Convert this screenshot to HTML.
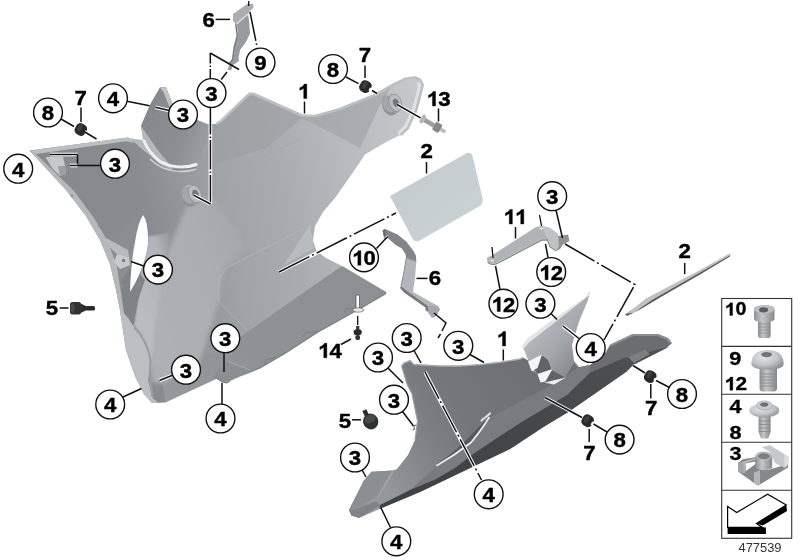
<!DOCTYPE html>
<html><head><meta charset="utf-8"><title>477539</title>
<style>
html,body{margin:0;padding:0;background:#fff;}
svg{display:block;will-change:transform}
.b{font-family:"Liberation Sans",sans-serif;font-weight:bold;font-size:21.3px;fill:#000;stroke:#000;stroke-width:0.4px}
.n{font-family:"Liberation Sans",sans-serif;font-size:12px;fill:#333}
.l{font-family:"Liberation Sans",sans-serif;font-weight:bold;font-size:18.5px;fill:#000;stroke:#000;stroke-width:0.3px}
</style></head><body>
<svg width="800" height="560" viewBox="0 0 800 560">
<rect width="800" height="560" fill="#fff"/>
<defs>
<filter id="b2" x="-10%" y="-10%" width="120%" height="120%"><feGaussianBlur stdDeviation="2"/></filter>
<filter id="b1" x="-10%" y="-10%" width="120%" height="120%"><feGaussianBlur stdDeviation="0.8"/></filter>
<clipPath id="cpU"><polygon points="29.5,150.4 124,138 128,137.5 131,139 146,152 141,126 150,105 160,87.5 166,87.5 172.5,104 197,120 207,124 216,124 221,121 247,96 250,93.6 254,94 302,115.5 315,116 340,109 376,94.5 395,84 406,78.5 415,77.5 420,79.5 422.8,85 416.3,110 408,128 400.5,135 390,140 380,145.5 365,154.5 356,168 335,198 323,212 315,226 313,240 316,250 325,257.5 342,266 386,292 385,294 362,307.5 318,332 284,354 260,368 250,372 240,376 224,382 218,378 165,402.5 152,403 144,394 135,376 126,350 120,310 116,290 110,264 100,240 86,216 66,190"/></clipPath>
<linearGradient id="gUp" gradientUnits="userSpaceOnUse" x1="30" y1="200" x2="425" y2="120">
<stop offset="0" stop-color="#85888c"/><stop offset="0.28" stop-color="#888b8f"/><stop offset="0.47" stop-color="#a0a3a7"/><stop offset="0.62" stop-color="#a8abaf"/><stop offset="0.8" stop-color="#b8bbbf"/><stop offset="1" stop-color="#c6c8cc"/></linearGradient>
<linearGradient id="gFlapU" gradientUnits="userSpaceOnUse" x1="145" y1="110" x2="215" y2="135">
<stop offset="0" stop-color="#85888c"/><stop offset="0.6" stop-color="#8b8e92"/><stop offset="1" stop-color="#9da0a4"/></linearGradient>
<linearGradient id="gFan" gradientUnits="userSpaceOnUse" x1="150" y1="300" x2="240" y2="270">
<stop offset="0" stop-color="#adb0b4"/><stop offset="0.7" stop-color="#aaadb1"/><stop offset="1" stop-color="#a6a9ad"/></linearGradient>
<linearGradient id="gFace" gradientUnits="userSpaceOnUse" x1="138" y1="300" x2="192" y2="285">
<stop offset="0" stop-color="#b9bcc0"/><stop offset="0.6" stop-color="#b0b3b7"/><stop offset="1" stop-color="#a6a9ad" stop-opacity="0"/></linearGradient>
<linearGradient id="gDark" x1="0" y1="1" x2="1" y2="0">
<stop offset="0" stop-color="#96999d"/><stop offset="0.4" stop-color="#8e9195"/><stop offset="1" stop-color="#8c8f93"/></linearGradient>
<linearGradient id="gPlate" x1="0" y1="0" x2="1" y2="1">
<stop offset="0" stop-color="#c3cace"/><stop offset="1" stop-color="#ccd3d7"/></linearGradient>
<linearGradient id="gLow" gradientUnits="userSpaceOnUse" x1="385" y1="490" x2="600" y2="350">
<stop offset="0" stop-color="#94979b"/><stop offset="0.22" stop-color="#7f8286"/><stop offset="0.4" stop-color="#74777b"/><stop offset="0.75" stop-color="#6c6f73"/><stop offset="1" stop-color="#6b6d71"/></linearGradient>
<linearGradient id="gBand" gradientUnits="userSpaceOnUse" x1="380" y1="505" x2="670" y2="345">
<stop offset="0" stop-color="#3e4042"/><stop offset="0.5" stop-color="#444649"/><stop offset="1" stop-color="#505256"/></linearGradient>
<linearGradient id="gFlap" gradientUnits="userSpaceOnUse" x1="535" y1="325" x2="580" y2="365">
<stop offset="0" stop-color="#b6b9bd"/><stop offset="0.5" stop-color="#a4a7ab"/><stop offset="1" stop-color="#85888c"/></linearGradient>
<linearGradient id="gScrew" x1="0" y1="0" x2="1" y2="0">
<stop offset="0" stop-color="#8e9093"/><stop offset="0.4" stop-color="#c4c6c8"/><stop offset="1" stop-color="#86888b"/></linearGradient>
<radialGradient id="gHead" cx="0.4" cy="0.35" r="0.7">
<stop offset="0" stop-color="#e6e7e9"/><stop offset="0.6" stop-color="#c2c4c7"/><stop offset="1" stop-color="#8e9093"/></radialGradient>
</defs>
<polygon points="29.5,150.4 124,138 128,137.5 131,139 146,152 141,126 150,105 160,87.5 166,87.5 172.5,104 197,120 207,124 216,124 221,121 247,96 250,93.6 254,94 302,115.5 315,116 340,109 376,94.5 395,84 406,78.5 415,77.5 420,79.5 422.8,85 416.3,110 408,128 400.5,135 390,140 380,145.5 365,154.5 356,168 335,198 323,212 315,226 313,240 316,250 325,257.5 342,266 386,292 385,294 362,307.5 318,332 284,354 260,368 250,372 240,376 224,382 218,378 165,402.5 152,403 144,394 135,376 126,350 120,310 116,290 110,264 100,240 86,216 66,190" fill="url(#gUp)" />
<polygon points="342,266 386,292 385,294 362,307.5 318,332 284,354 260,368 250,372 240,376 224,382 218,378 165,402.5 163,384 200,362 247.5,332 300,295" fill="url(#gDark)" />
<path d="M362,307.5 L346,308.5 L344,313 M318,332 L305,332.5 L303,337 M264,366 L266,360 L276,357" fill="none" stroke="#7b7e82" stroke-width="1" />
<path d="M386,292 L385,294 L362,307.5 L318,332 L284,354 L260,368 L250,372" fill="none" stroke="#7c7f83" stroke-width="1.2" />
<polygon points="284,265 310,224.5 314,248" fill="#b9bcbf" />
<polygon points="188,204 212,196 246,245 224,268 219,300 200,362 163,384 152,382 150,345 156,300 168,250" fill="url(#gFan)" filter="url(#b2)"/>
<path d="M148,236 Q158,236 170,232 Q166,262 160,300 Q152,340 152,380 L150,360 Q146,338 134,326 Q138,300 141,274 Q147,250 148,236 Z" fill="url(#gFace)" filter="url(#b1)"/>
<polygon points="216,124 221,121 247,96 250,93.6 254,94 302,115.5 315,116 340,109 370,97 395,82 380,105 360,148 330,132 302,118 266,148 200,168 197,150 205,135" fill="#9b9ea2" opacity="0.55"/>
<polygon points="120.5,280 126,262 131,268 130,288 140,274 145,280 138,300 134.5,320 133,326 125,320 123,300" fill="#7f8286" />
<polygon points="107,240 117,266 121,282 131,266 135,245 139,220 134,215 120,230" fill="#8a8d91" />
<polygon points="29.5,150.4 66,190 86,216 100,240 110,264 116,290 120,310 126,350 135,376 144,394 152,403 158,402.5 152,398 148,380 150,360 146,340 134,327 124,313 119,280 117,266 107,240 94,218 74,191 36,154" fill="#b6b9bc" />
<polygon points="120,310 126,350 135,376 144,394 152,403 158,402.5 152,398 148,380 150,360 146,340 134,327 128,318" fill="#bcbfc3" />
<path d="M134,327 Q147,340 150.5,360 Q149,380 153,398" fill="none" stroke="#9a9da1" stroke-width="2" />
<polygon points="29.5,150.4 124,138 128,137.5 131,139 134,143 126,141.2 36,154" fill="#bcbfc2" />
<path d="M419,84 L420,88 L414,110 L406,127 L400,133" fill="none" stroke="#dfe1e3" stroke-width="4.5" stroke-linejoin="round" stroke-linecap="round"/>
<path d="M216,124 L221,121 L247,96 L250,93.6 L254,94 L302,115.5 L315,116 L340,109 L376,94.5 L395,84 L406,78.5 L415,77.5 L420,79.5 L422.8,85 L416.3,110 L408,128 L400.5,135" fill="none" stroke="#bdc0c3" stroke-width="2.6" stroke-linejoin="round"/>
<polygon points="141,126 150,105 160,87.5 166,87.5 172.5,104 197,120 207,124 216,124 205,145 196,166 172,167 160,153 150,139" fill="url(#gFlapU)" />
<polygon points="160,87.5 166,87.5 172.5,104 197,120 193,121 169,106 163.5,92" fill="#c1c4c7" />
<path d="M146,123 l2,-4 M148.5,129 l2,-4 M152,114 l2,-4" fill="none" stroke="#7d8084" stroke-width="1" />
<polygon points="128,137.5 131,139 146,152 160,164 172,170 172,167 160,153 150,139 141,126 143,140 134,139" fill="#b4b7bb" />
<path d="M144,141 Q149,153 160,161.5 Q170,167 182,167 Q190,167 196,164.5" fill="none" stroke="#eff0f1" stroke-width="3" stroke-linecap="round"/>
<path d="M150,159 Q162,171 180,171.5 Q190,171.5 196,169" fill="none" stroke="#cfd2d4" stroke-width="1.6" />
<path d="M174,169.5 Q186,170 196,167.5" fill="none" stroke="#808387" stroke-width="1.2" />
<path d="M143,215 Q148.5,222 148,243 Q145,268 130,292 Q131,262 135,242 Q138,222 143,215 Z" fill="#fff" />
<polygon points="106,238 128,250 129,257 117,254 108,246" fill="#b9bcbf" />
<polygon points="117,254 129,257 130,265 120,269 114,262" fill="#c8cbce" />
<circle cx="123.6" cy="260.5" r="1.7" fill="#7a7d81"/>
<path d="M216,181 L246,245" fill="none" stroke="#a1a4a8" stroke-width="1" />
<path d="M219,302 Q216,280 226,268 L307,227" fill="none" stroke="#b0b3b7" stroke-width="1" />
<path d="M219,302 L237,320 L247,330" fill="none" stroke="#b0b3b7" stroke-width="0.8" />
<path d="M216,178 L240,168 L300,140" fill="none" stroke="#a3a6aa" stroke-width="0.8" />
<circle cx="44" cy="160" r="1.4" fill="#8f9296"/>
<circle cx="72" cy="196" r="1.4" fill="#8f9296"/>
<circle cx="99" cy="226" r="1.4" fill="#8f9296"/>
<circle cx="121" cy="286" r="1.4" fill="#8f9296"/>
<g transform="translate(194 194.3) scale(1.0) rotate(-22)"><ellipse cx="-5" cy="0" rx="8" ry="11" fill="#8d9094"/><ellipse cx="-5.5" cy="-1.5" rx="6.5" ry="9" fill="#a4a7ab"/><rect x="-5" y="-10.2" width="6" height="20.4" fill="#9a9da1"/><path d="M-5,-10.2 L1,-9.2" stroke="#bcbfc3" stroke-width="1.5"/><ellipse cx="1" cy="0" rx="6.2" ry="9.2" fill="#b9bcc0" stroke="#8a8d91" stroke-width="0.7"/><ellipse cx="1.5" cy="0.3" rx="3" ry="4.4" fill="#72757a"/></g>
<g transform="translate(394.5 103.2) scale(0.98) rotate(-22)"><ellipse cx="-5" cy="0" rx="8" ry="11" fill="#8d9094"/><ellipse cx="-5.5" cy="-1.5" rx="6.5" ry="9" fill="#a4a7ab"/><rect x="-5" y="-10.2" width="6" height="20.4" fill="#9a9da1"/><path d="M-5,-10.2 L1,-9.2" stroke="#bcbfc3" stroke-width="1.5"/><ellipse cx="1" cy="0" rx="6.2" ry="9.2" fill="#b9bcc0" stroke="#8a8d91" stroke-width="0.7"/><ellipse cx="1.5" cy="0.3" rx="3" ry="4.4" fill="#72757a"/></g>
<polygon points="45.5,157 63,156.5 65,166 66,174 60,176 52,168" fill="#c6c9cc" />
<polygon points="58,166 65,166 66,174 60,176" fill="#9b9ea2" />
<polygon points="214,376.5 219,371 228,361.5 250,370 250,373 240,376.5 230,381 227,383 222,382" fill="#8b8e92" />
<path d="M228,361.5 L250,370" fill="none" stroke="#a9acb0" stroke-width="0.9" />
<path d="M214,376.5 L222,382 L227,383 L230,381" fill="none" stroke="#7c7f83" stroke-width="1" />
<polygon points="390,196 468,152.5 472,154 483,200 481.5,205 418,241.5 413.5,240.5" fill="url(#gPlate)" />
<polygon points="233,14 247.5,3.8 253,3.8 253.7,7.5 250,11 248,14 236.5,24 233,21" fill="#abadb1" />
<polygon points="236.5,24 248,14 249,20 250,33.5 246,42 240,50 238.5,58 239,61 233,65 231,70.5 227.5,69.5 230,64 233.5,60 235,48 238,36 237,25" fill="#989b9f" />
<polygon points="236.5,24 238,36 235,48 233.5,60 230,64 229,63 232,59 233.5,47 236.5,36 235,23" fill="#717377" />
<path d="M236.5,24 L248,14" fill="none" stroke="#e4e5e6" stroke-width="1.2" />
<line x1="248.7" y1="1" x2="248.7" y2="6" stroke="#111" stroke-width="1.3" />
<polygon points="406.2,258.2 416.3,261.7 415,278 413,292 438,306 440,309.5 436,316 432,318 428,312 428,306 406,290 401,286 403.6,274" fill="#b2b5b9" />
<polygon points="382.6,230.2 385.2,229 397.5,234.6 406.2,241.6 413.2,250.4 415.9,255.6 416.3,261.7 406.2,258.2 405.4,253.9 401.9,248.6 395.7,245 388.7,239 384,237.2" fill="#818488" />
<polygon points="382.6,230.2 385.2,229 386.3,237.8 384,237.2" fill="#6b6e72" />
<path d="M406.2,258.2 L416.3,261.7" fill="none" stroke="#9a9da1" stroke-width="1" />
<path d="M406.2,258.2 L403.6,274 L401,286" fill="none" stroke="#8a8d91" stroke-width="1" />
<polygon points="401,286 406,290 428,306 428,312 425.5,310 425.5,307.5 404,292.5 400,288" fill="#75787c" />
<polygon points="428,306 438,306 440,309.5 436,316 432,318 428,312" fill="#a4a7ab" />
<path d="M487,260 Q486,257 491,256 L536,227 L542,226 L550,228 L558,234 L559,246 L556,251 L550,247 L547,239 L542,239 L498,262 Q491,266 487,260 Z" fill="#b0b3b7" />
<path d="M487.5,261.5 Q491,266.5 498,263 L542,240 L547,240" fill="none" stroke="#7f8286" stroke-width="1.3" />
<polygon points="542,226 550,228 558,234 559,246 556,251 550,247 547,239" fill="#c0c3c6" />
<polygon points="558,236 568,234.5 569.5,241 563,244.5 560,249 556,251 559,246" fill="#8f9296" />
<path d="M556,251 L550,247 L547,239" fill="none" stroke="#7f8286" stroke-width="1" />
<ellipse cx="492" cy="260.5" rx="1.8" ry="1.1" fill="#e8e9ea"/>
<ellipse cx="541.5" cy="228.5" rx="1.8" ry="1.1" fill="#e8e9ea"/>
<polygon points="625,314 634,308 646,298.5 700,270 729.5,253.5 730.5,255 700,272.5 652,300 634,312.5" fill="#bdc0c4" />
<polygon points="625,314 634,312.5 652,300 700,272.5 730.5,255 730,256.5 700,274.5 660,297.5 640,309.5 627,316" fill="#54575b" />
<polygon points="522.5,346 527.5,339 554,319 585.5,298 590,291 588,300 578.7,322.5 572,345 574,361 580,368 560,385 540,382 529,362.5" fill="url(#gFlap)" />
<polygon points="522.5,346 527.5,339 554,319 585.5,298 590,291 589,295.5 556,321.5 529,342.5 524,348.5" fill="#e3e5e7" />
<polygon points="533,368 537,367.5 541.6,355 548,360 551.7,370 565,377.6 554,383.5 545,382 540.5,382 538,374" fill="#606367" />
<polygon points="401.6,366 404,363 410,360.5 414,364.5 440,366 460,366 480,364.6 500,362.3 520,359 523,357.6 529,361 531.5,370 538,374 540.5,382 545,382 554,383 565,377.6 574,363 577.6,367.5 590,365 606,352 610,345 633,334 657.5,334 667.6,338 672,343 666.5,348 633,365 626,372 590,397 567.5,412.5 545,426 510,449 420,492 379.5,509 359,518 351.4,515.6 349,510 363.7,480.7 371.6,471.7 393,470.6 397,469 408,455 415,440 417.5,421 412,394 407,384" fill="url(#gLow)" />
<path d="M437,464 Q455,452 470,436 Q482,424 492,414 L489,418 Q484,428 471,443 Q455,456 437,466 Z" fill="#56595d" />
<polygon points="437,466 471,443 489,418 540,391 560,380 577.6,367.5 590,365 590,372.7 567,395 520,423 473,454 455,468 435,479.5 410,490" fill="#787b7f" />
<polygon points="380,505 410,490 435,479.5 455,468 473,454 520,423 567,395 590,372.7 623.7,358 668.7,347 666.5,348 633,365 626,372 590,397 567.5,412.5 545,426 510,449 420,492 379.5,509" fill="url(#gBand)" />
<polygon points="628,357 645,350 650,354 634,363" fill="#7c7f83" />
<path d="M610.5,345.5 L633,335 L657.5,335 L667.6,339 L670.5,343" fill="none" stroke="#8b8e92" stroke-width="2.2" stroke-linejoin="round"/>
<polygon points="349,510 363.7,480.7 371.6,471.7 393,470.6 381.7,494 352.6,510" fill="#8b8e92" />
<path d="M393,471 L378,497" fill="none" stroke="#a0a3a7" stroke-width="2" />
<polygon points="351.4,515.6 349,510 352.6,510 376,501.5 380,505.5 359,518" fill="#7f8286" />
<path d="M401.6,366 L404,363 L410,360.5 L414,364.5 L440,366 L460,366 L480,364.6 L500,362.3 L520,359 L523,357.6" fill="none" stroke="#a9acb0" stroke-width="1.4" />
<path d="M401.6,366 L407,384 L412,394 L417.5,421 L415,440" fill="none" stroke="#9da0a4" stroke-width="1.2" />
<polygon points="528,361.5 542,354.5 537.5,368 531.5,371" fill="#f4f5f5" />
<polygon points="537.5,374 552.5,369 545.5,381.5 540.5,382.5" fill="#f4f5f5" />
<polygon points="544.5,382.5 566,377.6 554,384.5" fill="#eeeff0" />
<path d="M437,465.5 Q455,455 471,442.5 Q483,428 489,417.5" fill="none" stroke="#f2f3f4" stroke-width="1.6" stroke-linecap="round"/>
<path d="M481.5,420.5 Q486,417 490,413.5" fill="none" stroke="#dfe0e2" stroke-width="2.2" stroke-linecap="round"/>
<path d="M416.5,425 l-2.5,1 l0.5,3 l-2,1" fill="none" stroke="#6f7276" stroke-width="1.2" />
<g transform="translate(81.2 129.7) rotate(30)"><rect x="-6.2" y="-6" width="11.5" height="12" rx="4.5" fill="#29292b"/><ellipse cx="-2" cy="-1" rx="2.2" ry="4" fill="#3d3d40"/><rect x="4" y="-1.6" width="3" height="3.2" fill="#fff"/></g>
<g transform="translate(365.8 86.8) rotate(30)"><rect x="-6.2" y="-6" width="11.5" height="12" rx="4.5" fill="#29292b"/><ellipse cx="-2" cy="-1" rx="2.2" ry="4" fill="#3d3d40"/><rect x="4" y="-1.6" width="3" height="3.2" fill="#fff"/></g>
<g transform="translate(650.6 376.8) rotate(30)"><rect x="-6.2" y="-6" width="11.5" height="12" rx="4.5" fill="#29292b"/><ellipse cx="-2" cy="-1" rx="2.2" ry="4" fill="#3d3d40"/><rect x="4" y="-1.6" width="3" height="3.2" fill="#fff"/></g>
<g transform="translate(588 421) rotate(30)"><rect x="-6.2" y="-6" width="11.5" height="12" rx="4.5" fill="#29292b"/><ellipse cx="-2" cy="-1" rx="2.2" ry="4" fill="#3d3d40"/><rect x="4" y="-1.6" width="3" height="3.2" fill="#fff"/></g>
<g transform="translate(70 302)"><rect x="0" y="0" width="11.2" height="12.4" rx="2.6" fill="#323335"/><ellipse cx="2.6" cy="6.2" rx="2" ry="5" fill="#48494c"/><polygon points="11,1.8 16,4 16,8.6 11,10.8" fill="#2c2d2f"/><rect x="15.5" y="4" width="9.5" height="4.6" rx="1.6" fill="#2a2a2c"/></g>
<g transform="translate(370.5 421) rotate(-25)"><rect x="-3.2" y="-12.5" width="4.4" height="6" fill="#2b2c2e"/><ellipse cx="0" cy="0.5" rx="7.6" ry="8" fill="#303133"/><ellipse cx="0.5" cy="-2.2" rx="5.8" ry="4.2" fill="#47484b"/></g>
<g transform="translate(421 118) rotate(30)"><rect x="0" y="-4.5" width="4" height="9" rx="1.5" fill="#b4b6b9"/><rect x="4" y="-2.2" width="11" height="4.4" fill="#9b9da0"/><rect x="15" y="-4.5" width="7.5" height="9" rx="1.5" fill="#85878a"/><rect x="22.5" y="-1.6" width="5.5" height="3.2" fill="#b8babd"/></g>
<g transform="translate(357.7 295)"><rect x="-1.7" y="0" width="3.4" height="15" fill="#fff" stroke="#55575a" stroke-width="0.8"/><ellipse cx="0.5" cy="15" rx="5.5" ry="2.2" fill="#e6e7e8" stroke="#66686b" stroke-width="0.7"/></g>
<g transform="translate(357.7 326)"><rect x="-1.6" y="0" width="3.2" height="5" fill="#3a3a3c"/><rect x="-4" y="3.5" width="8" height="5.5" rx="2" fill="#2a2a2c"/><rect x="-2.4" y="9" width="4.8" height="5" rx="2" fill="#333335"/></g>
<line x1="357.7" y1="316" x2="357.7" y2="325" stroke="#111" stroke-width="1.3" />
<line x1="215.6" y1="19.4" x2="230" y2="19.4" stroke="#111" stroke-width="1.5" />
<line x1="250" y1="12" x2="256.7" y2="45" stroke="#111" stroke-width="1.5" stroke-dasharray="29.5 2.5 1.5 3"/>
<line x1="210.3" y1="53" x2="210.3" y2="78" stroke="#111" stroke-width="1.5" stroke-dasharray="10.5 2 1.5 2 12"/>
<line x1="210.3" y1="53" x2="239" y2="69.5" stroke="#111" stroke-width="1.5" />
<line x1="221.2" y1="79.5" x2="227" y2="72" stroke="#111" stroke-width="1.5" />
<line x1="210.4" y1="108" x2="210.4" y2="204" stroke="#fff" stroke-width="3.6" />
<line x1="210.4" y1="108" x2="210.4" y2="204" stroke="#111" stroke-width="1.5" stroke-dasharray="26.5 2 1.5 2 29.5 2 1.5 2 40"/>
<line x1="210.4" y1="204" x2="194" y2="195.3" stroke="#fff" stroke-width="3.6" />
<line x1="210.4" y1="204" x2="194" y2="195.3" stroke="#111" stroke-width="1.5" />
<line x1="127" y1="101.3" x2="149.5" y2="105.8" stroke="#111" stroke-width="1.5" />
<line x1="155.5" y1="107.3" x2="169" y2="110.6" stroke="#fff" stroke-width="3.6" />
<line x1="155.5" y1="107.3" x2="169" y2="110.6" stroke="#111" stroke-width="1.5" />
<line x1="61" y1="119" x2="74" y2="126.5" stroke="#111" stroke-width="1.5" />
<line x1="81" y1="107.5" x2="81" y2="122" stroke="#111" stroke-width="1.5" />
<line x1="84" y1="131.5" x2="96.5" y2="139" stroke="#111" stroke-width="1.5" />
<line x1="50" y1="154.5" x2="77.5" y2="154.5" stroke="#fff" stroke-width="3.6" />
<line x1="50" y1="154.5" x2="77.5" y2="154.5" stroke="#111" stroke-width="1.5" />
<line x1="77.5" y1="154.5" x2="77.5" y2="165.5" stroke="#111" stroke-width="1.5" />
<line x1="70" y1="165.5" x2="77.5" y2="165.5" stroke="#fff" stroke-width="3.6" />
<line x1="70" y1="165.5" x2="77.5" y2="165.5" stroke="#111" stroke-width="1.5" />
<line x1="77.5" y1="165.5" x2="100.5" y2="165.5" stroke="#111" stroke-width="1.5" />
<line x1="143.6" y1="266" x2="131" y2="261.5" stroke="#111" stroke-width="1.5" />
<line x1="59.6" y1="308" x2="68.5" y2="308" stroke="#111" stroke-width="1.5" />
<line x1="159.5" y1="380.5" x2="172.5" y2="375.3" stroke="#fff" stroke-width="3.6" />
<line x1="159.5" y1="380.5" x2="172.5" y2="375.3" stroke="#111" stroke-width="1.5" />
<line x1="123" y1="397" x2="141.5" y2="388.5" stroke="#111" stroke-width="1.5" />
<line x1="224" y1="353" x2="224" y2="372" stroke="#111" stroke-width="1.5" />
<line x1="222" y1="383" x2="222" y2="404" stroke="#111" stroke-width="1.5" />
<line x1="304.5" y1="101.6" x2="304.5" y2="113.5" stroke="#111" stroke-width="1.5" />
<line x1="346" y1="77" x2="358.5" y2="83.6" stroke="#111" stroke-width="1.5" />
<line x1="365" y1="65.6" x2="365" y2="78" stroke="#111" stroke-width="1.5" />
<line x1="372" y1="90.5" x2="377" y2="93.5" stroke="#fff" stroke-width="3.6" />
<line x1="372" y1="90.5" x2="377" y2="93.5" stroke="#111" stroke-width="1.5" />
<line x1="397" y1="104.5" x2="420.5" y2="117.8" stroke="#fff" stroke-width="3.6" />
<line x1="397" y1="104.5" x2="420.5" y2="117.8" stroke="#111" stroke-width="1.5" />
<line x1="438.5" y1="108.5" x2="438.5" y2="121.5" stroke="#111" stroke-width="1.5" />
<line x1="426.5" y1="162" x2="426.5" y2="173.5" stroke="#111" stroke-width="1.5" />
<line x1="279" y1="272" x2="396" y2="213" stroke="#fff" stroke-width="3.6" />
<line x1="279" y1="272" x2="396" y2="213" stroke="#111" stroke-width="1.5" stroke-dasharray="34 3 2 3"/>
<line x1="376.5" y1="248.5" x2="386" y2="238.2" stroke="#111" stroke-width="1.5" />
<line x1="386" y1="238.2" x2="388.3" y2="236.6" stroke="#fff" stroke-width="3" />
<line x1="385" y1="239" x2="388.3" y2="236.6" stroke="#111" stroke-width="1.5" />
<line x1="416.5" y1="278.4" x2="427.5" y2="278.4" stroke="#111" stroke-width="1.5" />
<path d="M434,313 L446,323 L442,331" fill="none" stroke="#111" stroke-width="1.5" />
<line x1="440.5" y1="334" x2="438" y2="338" stroke="#111" stroke-width="1.5" />
<line x1="341" y1="344.5" x2="351" y2="339" stroke="#111" stroke-width="1.5" />
<line x1="515.5" y1="227" x2="515.5" y2="238.5" stroke="#111" stroke-width="1.5" />
<line x1="492" y1="247" x2="493" y2="258" stroke="#111" stroke-width="1.3" />
<line x1="495.5" y1="266" x2="500" y2="289.3" stroke="#111" stroke-width="1.5" />
<line x1="539.5" y1="215" x2="541.5" y2="226" stroke="#111" stroke-width="1.3" />
<line x1="545.5" y1="244" x2="548" y2="257.5" stroke="#111" stroke-width="1.5" />
<line x1="556" y1="210" x2="562.5" y2="238" stroke="#111" stroke-width="1.5" />
<path d="M565,244 L635,284.5 L604,340" fill="none" stroke="#111" stroke-width="1.5" stroke-dasharray="34 3 2 3"/>
<line x1="684.7" y1="263" x2="684.7" y2="274" stroke="#111" stroke-width="1.5" />
<line x1="551" y1="313.5" x2="557" y2="319.5" stroke="#111" stroke-width="1.5" />
<line x1="563" y1="326" x2="579" y2="338.5" stroke="#fff" stroke-width="3.6" />
<line x1="563" y1="326" x2="579" y2="338.5" stroke="#111" stroke-width="1.5" />
<line x1="414" y1="350.5" x2="421" y2="363" stroke="#111" stroke-width="1.5" />
<line x1="470" y1="354.5" x2="484" y2="362.5" stroke="#111" stroke-width="1.5" />
<line x1="388" y1="368" x2="403" y2="383" stroke="#111" stroke-width="1.5" />
<line x1="402.5" y1="411.5" x2="413.5" y2="426" stroke="#111" stroke-width="1.5" />
<line x1="362" y1="470" x2="366" y2="477" stroke="#111" stroke-width="1.5" />
<line x1="503.3" y1="349.5" x2="503.3" y2="360.5" stroke="#111" stroke-width="1.5" />
<line x1="352" y1="419.8" x2="361" y2="419.8" stroke="#111" stroke-width="1.5" />
<line x1="425" y1="372" x2="481.5" y2="480" stroke="#fff" stroke-width="3.6" />
<line x1="425" y1="372" x2="481.5" y2="480" stroke="#111" stroke-width="1.5" stroke-dasharray="30 3 2 3"/>
<line x1="381" y1="508" x2="390.5" y2="527.5" stroke="#111" stroke-width="1.5" />
<line x1="633" y1="365.5" x2="645" y2="373" stroke="#fff" stroke-width="3.6" />
<line x1="633" y1="365.5" x2="645" y2="373" stroke="#111" stroke-width="1.5" />
<line x1="656" y1="380.5" x2="669.5" y2="387.5" stroke="#111" stroke-width="1.5" />
<line x1="650.8" y1="384" x2="650.8" y2="398.5" stroke="#111" stroke-width="1.5" />
<line x1="545" y1="397.5" x2="582" y2="417.5" stroke="#fff" stroke-width="3.6" />
<line x1="545" y1="397.5" x2="582" y2="417.5" stroke="#111" stroke-width="1.5" />
<line x1="593.5" y1="424" x2="607" y2="432" stroke="#111" stroke-width="1.5" />
<line x1="589.2" y1="429" x2="589.2" y2="442" stroke="#111" stroke-width="1.5" />
<circle cx="260.5" cy="62.5" r="14.4" fill="#fff" stroke="#111" stroke-width="1.4"/>
<text transform="translate(254.32 70.3) scale(1.1 1)" class="b" style="font-size:20.2px">9</text>
<circle cx="211.5" cy="93" r="14.4" fill="#fff" stroke="#111" stroke-width="1.4"/>
<text transform="translate(205.32 100.8) scale(1.1 1)" class="b" style="font-size:20.2px">3</text>
<circle cx="113" cy="98.3" r="14.4" fill="#fff" stroke="#111" stroke-width="1.4"/>
<text transform="translate(106.82 106.1) scale(1.1 1)" class="b" style="font-size:20.2px">4</text>
<circle cx="183" cy="114.5" r="14.4" fill="#fff" stroke="#111" stroke-width="1.4"/>
<text transform="translate(176.82 122.3) scale(1.1 1)" class="b" style="font-size:20.2px">3</text>
<circle cx="48" cy="112.5" r="14.4" fill="#fff" stroke="#111" stroke-width="1.4"/>
<text transform="translate(41.82 120.3) scale(1.1 1)" class="b" style="font-size:20.2px">8</text>
<text transform="translate(74.52 104.8) scale(1.1 1)" class="b" style="font-size:20.2px">7</text>
<circle cx="18.2" cy="168.7" r="14.4" fill="#fff" stroke="#111" stroke-width="1.4"/>
<text transform="translate(12.02 176.5) scale(1.1 1)" class="b" style="font-size:20.2px">4</text>
<circle cx="115" cy="163.7" r="14.4" fill="#fff" stroke="#111" stroke-width="1.4"/>
<text transform="translate(108.82 171.5) scale(1.1 1)" class="b" style="font-size:20.2px">3</text>
<circle cx="158" cy="269.6" r="14.4" fill="#fff" stroke="#111" stroke-width="1.4"/>
<text transform="translate(151.82 277.40000000000003) scale(1.1 1)" class="b" style="font-size:20.2px">3</text>
<text transform="translate(45.82 315.3) scale(1.1 1)" class="b" style="font-size:20.2px">5</text>
<circle cx="186" cy="369.7" r="14.4" fill="#fff" stroke="#111" stroke-width="1.4"/>
<text transform="translate(179.82 377.5) scale(1.1 1)" class="b" style="font-size:20.2px">3</text>
<circle cx="110.2" cy="404.5" r="14.4" fill="#fff" stroke="#111" stroke-width="1.4"/>
<text transform="translate(104.02 412.3) scale(1.1 1)" class="b" style="font-size:20.2px">4</text>
<circle cx="225.3" cy="338.2" r="14.4" fill="#fff" stroke="#111" stroke-width="1.4"/>
<text transform="translate(219.12 346.0) scale(1.1 1)" class="b" style="font-size:20.2px">3</text>
<circle cx="220.5" cy="418.5" r="14.4" fill="#fff" stroke="#111" stroke-width="1.4"/>
<text transform="translate(214.32 426.3) scale(1.1 1)" class="b" style="font-size:20.2px">4</text>
<path d="M306.77,98.60L303.72,98.60L303.72,88.15Q302.05,89.57 299.78,90.26L299.78,87.74Q300.97,87.38 302.37,86.39Q303.77,85.40 304.29,84.08L306.77,84.08Z" fill="#000" stroke="#000" stroke-width="0.4" stroke-linejoin="miter"/>
<circle cx="333" cy="69" r="14.4" fill="#fff" stroke="#111" stroke-width="1.4"/>
<text transform="translate(326.82 76.8) scale(1.1 1)" class="b" style="font-size:20.2px">8</text>
<text transform="translate(358.82 61.9) scale(1.1 1)" class="b" style="font-size:20.2px">7</text>
<path d="M435.54,106.00L432.49,106.00L432.49,95.55Q430.82,96.97 428.55,97.66L428.55,95.14Q429.75,94.78 431.15,93.79Q432.55,92.80 433.07,91.48L435.54,91.48Z" fill="#000" stroke="#000" stroke-width="0.4" stroke-linejoin="miter"/>
<text transform="translate(438.25 106.0) scale(1.1 1)" class="b" style="font-size:20.2px">3</text>
<text transform="translate(420.62 157.60000000000002) scale(1.1 1)" class="b" style="font-size:20.2px">2</text>
<circle cx="364" cy="257.4" r="14.4" fill="#fff" stroke="#111" stroke-width="1.4"/>
<path d="M360.87,265.20L357.85,265.20L357.85,254.75Q356.20,256.17 353.95,256.86L353.95,254.34Q355.13,253.98 356.52,252.99Q357.91,252.00 358.42,250.68L360.87,250.68Z" fill="#000" stroke="#000" stroke-width="0.4" stroke-linejoin="miter"/>
<text transform="translate(363.55 265.2) scale(1.09 1)" class="b" style="font-size:20.2px">0</text>
<text transform="translate(428.82 285.3) scale(1.1 1)" class="b" style="font-size:20.2px">6</text>
<path d="M326.84,357.80L323.79,357.80L323.79,347.35Q322.12,348.77 319.85,349.46L319.85,346.94Q321.05,346.58 322.45,345.59Q323.85,344.60 324.37,343.28L326.84,343.28Z" fill="#000" stroke="#000" stroke-width="0.4" stroke-linejoin="miter"/>
<text transform="translate(329.55 357.8) scale(1.1 1)" class="b" style="font-size:20.2px">4</text>
<text transform="translate(202.52 27.3) scale(1.1 1)" class="b" style="font-size:20.2px">6</text>
<path d="M512.34,224.00L509.29,224.00L509.29,213.55Q507.62,214.97 505.35,215.66L505.35,213.14Q506.55,212.78 507.95,211.79Q509.35,210.80 509.87,209.48L512.34,209.48Z" fill="#000" stroke="#000" stroke-width="0.4" stroke-linejoin="miter"/>
<path d="M523.80,224.00L520.74,224.00L520.74,213.55Q519.08,214.97 516.81,215.66L516.81,213.14Q518.00,212.78 519.40,211.79Q520.80,210.80 521.32,209.48L523.80,209.48Z" fill="#000" stroke="#000" stroke-width="0.4" stroke-linejoin="miter"/>
<circle cx="552.2" cy="196.2" r="14.4" fill="#fff" stroke="#111" stroke-width="1.4"/>
<text transform="translate(546.02 204.0) scale(1.1 1)" class="b" style="font-size:20.2px">3</text>
<circle cx="551.2" cy="272" r="14.4" fill="#fff" stroke="#111" stroke-width="1.4"/>
<path d="M548.07,279.80L545.05,279.80L545.05,269.35Q543.40,270.77 541.15,271.46L541.15,268.94Q542.33,268.58 543.72,267.59Q545.11,266.60 545.62,265.28L548.07,265.28Z" fill="#000" stroke="#000" stroke-width="0.4" stroke-linejoin="miter"/>
<text transform="translate(550.75 279.8) scale(1.09 1)" class="b" style="font-size:20.2px">2</text>
<circle cx="503.4" cy="303.7" r="14.4" fill="#fff" stroke="#111" stroke-width="1.4"/>
<path d="M500.27,311.50L497.25,311.50L497.25,301.05Q495.60,302.47 493.35,303.16L493.35,300.64Q494.53,300.28 495.92,299.29Q497.31,298.30 497.82,296.98L500.27,296.98Z" fill="#000" stroke="#000" stroke-width="0.4" stroke-linejoin="miter"/>
<text transform="translate(502.95 311.5) scale(1.09 1)" class="b" style="font-size:20.2px">2</text>
<circle cx="540.4" cy="303.7" r="14.4" fill="#fff" stroke="#111" stroke-width="1.4"/>
<text transform="translate(534.22 311.5) scale(1.1 1)" class="b" style="font-size:20.2px">3</text>
<circle cx="590.7" cy="348" r="14.4" fill="#fff" stroke="#111" stroke-width="1.4"/>
<text transform="translate(584.52 355.8) scale(1.1 1)" class="b" style="font-size:20.2px">4</text>
<text transform="translate(678.62 258.3) scale(1.1 1)" class="b" style="font-size:20.2px">2</text>
<circle cx="406.7" cy="338" r="14.4" fill="#fff" stroke="#111" stroke-width="1.4"/>
<text transform="translate(400.52 345.8) scale(1.1 1)" class="b" style="font-size:20.2px">3</text>
<circle cx="458.3" cy="345.8" r="14.4" fill="#fff" stroke="#111" stroke-width="1.4"/>
<text transform="translate(452.12 353.6) scale(1.1 1)" class="b" style="font-size:20.2px">3</text>
<circle cx="378" cy="357.5" r="14.4" fill="#fff" stroke="#111" stroke-width="1.4"/>
<text transform="translate(371.82 365.3) scale(1.1 1)" class="b" style="font-size:20.2px">3</text>
<circle cx="394" cy="399.7" r="14.4" fill="#fff" stroke="#111" stroke-width="1.4"/>
<text transform="translate(387.82 407.5) scale(1.1 1)" class="b" style="font-size:20.2px">3</text>
<circle cx="355" cy="457.5" r="14.4" fill="#fff" stroke="#111" stroke-width="1.4"/>
<text transform="translate(348.82 465.3) scale(1.1 1)" class="b" style="font-size:20.2px">3</text>
<path d="M505.57,345.90L502.52,345.90L502.52,335.45Q500.85,336.87 498.58,337.56L498.58,335.04Q499.77,334.68 501.17,333.69Q502.57,332.70 503.09,331.38L505.57,331.38Z" fill="#000" stroke="#000" stroke-width="0.4" stroke-linejoin="miter"/>
<text transform="translate(338.82 427.90000000000003) scale(1.1 1)" class="b" style="font-size:20.2px">5</text>
<circle cx="488.7" cy="494.3" r="14.4" fill="#fff" stroke="#111" stroke-width="1.4"/>
<text transform="translate(482.52 502.1) scale(1.1 1)" class="b" style="font-size:20.2px">4</text>
<circle cx="396.3" cy="541.3" r="14.4" fill="#fff" stroke="#111" stroke-width="1.4"/>
<text transform="translate(390.12 549.0999999999999) scale(1.1 1)" class="b" style="font-size:20.2px">4</text>
<circle cx="682" cy="394" r="14.4" fill="#fff" stroke="#111" stroke-width="1.4"/>
<text transform="translate(675.82 401.8) scale(1.1 1)" class="b" style="font-size:20.2px">8</text>
<text transform="translate(645.02 415.1) scale(1.1 1)" class="b" style="font-size:20.2px">7</text>
<circle cx="619.6" cy="439.6" r="14.4" fill="#fff" stroke="#111" stroke-width="1.4"/>
<text transform="translate(613.42 447.40000000000003) scale(1.1 1)" class="b" style="font-size:20.2px">8</text>
<text transform="translate(583.32 459.6) scale(1.1 1)" class="b" style="font-size:20.2px">7</text>
<rect x="721.7" y="298.5" width="70" height="239.8" fill="#fff" stroke="#333" stroke-width="1.1"/>
<line x1="721.7" y1="346.4" x2="791.7" y2="346.4" stroke="#333" stroke-width="1.1" />
<line x1="721.7" y1="394.2" x2="791.7" y2="394.2" stroke="#333" stroke-width="1.1" />
<line x1="721.7" y1="442.3" x2="791.7" y2="442.3" stroke="#333" stroke-width="1.1" />
<line x1="721.7" y1="490.2" x2="791.7" y2="490.2" stroke="#333" stroke-width="1.1" />
<path d="M732.55,315.40L729.84,315.40L729.84,306.30Q728.36,307.54 726.35,308.13L726.35,305.94Q727.41,305.63 728.65,304.76Q729.89,303.90 730.35,302.75L732.55,302.75Z" fill="#000" stroke="#000" stroke-width="0.35" stroke-linejoin="miter"/>
<text transform="translate(735.45 315.4) scale(1.12 1)" class="l" style="font-size:17.6px">0</text>
<text transform="translate(729.28 365) scale(1.17 1)" class="l" style="font-size:18.5px">9</text>
<path d="M732.81,390.30L729.93,390.30L729.93,380.73Q728.36,382.03 726.23,382.66L726.23,380.35Q727.35,380.03 728.67,379.12Q729.99,378.21 730.48,377.00L732.81,377.00Z" fill="#000" stroke="#000" stroke-width="0.3" stroke-linejoin="miter"/>
<text transform="translate(735.60 390.3) scale(1.13 1)" class="l" style="font-size:18.5px">2</text>
<text transform="translate(729.38 412.5) scale(1.17 1)" class="l" style="font-size:18.5px">4</text>
<text transform="translate(729.38 438.6) scale(1.17 1)" class="l" style="font-size:18.5px">8</text>
<text transform="translate(729.38 459.9) scale(1.17 1)" class="l" style="font-size:18.5px">3</text>
<g><rect x="758" y="318" width="12.6" height="20" rx="2.2" fill="url(#gScrew)"/><path d="M758,324 h12.6 M758,327 h12.6 M758,330 h12.6 M758,333 h12.6" stroke="#8b8e91" stroke-width="0.7"/><path d="M754,309 Q754,305.2 764.2,305.2 Q774.5,305.2 774.5,309 L774.5,319 Q774.5,322 764.2,322 Q754,322 754,319 Z" fill="url(#gScrew)"/><ellipse cx="764.2" cy="309.3" rx="10.2" ry="4" fill="#bcbec1"/><ellipse cx="763.6" cy="309.8" rx="4.6" ry="2.6" fill="#5b5e61"/></g>
<g><rect x="759.6" y="366" width="17.4" height="25.4" rx="3" fill="url(#gScrew)"/><path d="M759.6,374 h17.4 M759.6,377 h17.4 M759.6,380 h17.4 M759.6,383 h17.4 M759.6,386 h17.4" stroke="#85888b" stroke-width="0.8"/><path d="M751.4,364 Q751.4,350 767.5,350 Q783.6,350 783.6,364 Q783.6,369.5 767.5,369.5 Q751.4,369.5 751.4,364 Z" fill="url(#gHead)"/><ellipse cx="766.6" cy="354.6" rx="5.4" ry="2.6" fill="#74777a"/></g>
<g><path d="M758.6,414 h12 v18 l-2.5,6.4 h-7 l-2.5,-6.4 Z" fill="url(#gScrew)"/><path d="M758.6,421 h12 M758.6,424.5 h12 M758.6,428 h12 M759,431.5 h11" stroke="#85888b" stroke-width="0.8"/><ellipse cx="764.3" cy="410.5" rx="15" ry="7" fill="url(#gHead)"/><ellipse cx="764.5" cy="405.5" rx="8" ry="4.6" fill="#c9cbcd" stroke="#9a9da0" stroke-width="0.6"/><ellipse cx="764.3" cy="404.6" rx="4" ry="2.1" fill="#6d7073"/></g>
<g><polygon points="738,462.8 743,459.2 756,457 757,468 768,470 788,464 788,467.5 762,483.2 758,485.4 754,483 738,471.4" fill="#85888b"/><polygon points="738,462.8 743,461.5 743.5,473.5 738,471.4" fill="#a3a6a9"/><polygon points="743,461.5 756,457.5 756,459.5 745.5,463 745.5,472 743.5,473.5" fill="#b3b6b9"/><polygon points="754,472.5 760,470.3 760,483.5 758,485.4 754,483" fill="#b4b7ba"/><polygon points="745.5,463.6 755.4,461.6 755.4,464 746,471" fill="#fff"/><polygon points="762,447.3 769.7,445 789,457 788,464 784.7,468 775,463 770,452" fill="#c6c8cb"/><polygon points="784,454 789,457 788,464 784.7,468" fill="#dcdee0"/><path d="M755.4,455.8 L755.4,468 Q763.8,472.5 772.2,468 L772.2,455.8 Z" fill="url(#gScrew)"/><ellipse cx="763.8" cy="455.8" rx="8.4" ry="4.3" fill="#b6b9bc"/><ellipse cx="763.8" cy="456.2" rx="6" ry="2.9" fill="#7c7f82"/></g>
<polygon points="727.6,527.4 765.9,527.4 765.9,534 727.6,534" fill="#000"/>
<polygon points="786.3,505 787,511 762.8,525.6 756.4,523.4" fill="#000"/>
<polygon points="727.6,506.4 736.7,512.5 767.7,494.2 786.3,505 756.4,523.4 762.5,527.4 727.6,527.4" fill="#fff" stroke="#000" stroke-width="1.2" stroke-linejoin="miter"/>
<text x="738.5" y="552" class="n" textLength="43" lengthAdjust="spacingAndGlyphs">477539</text>
</svg>
</body></html>
